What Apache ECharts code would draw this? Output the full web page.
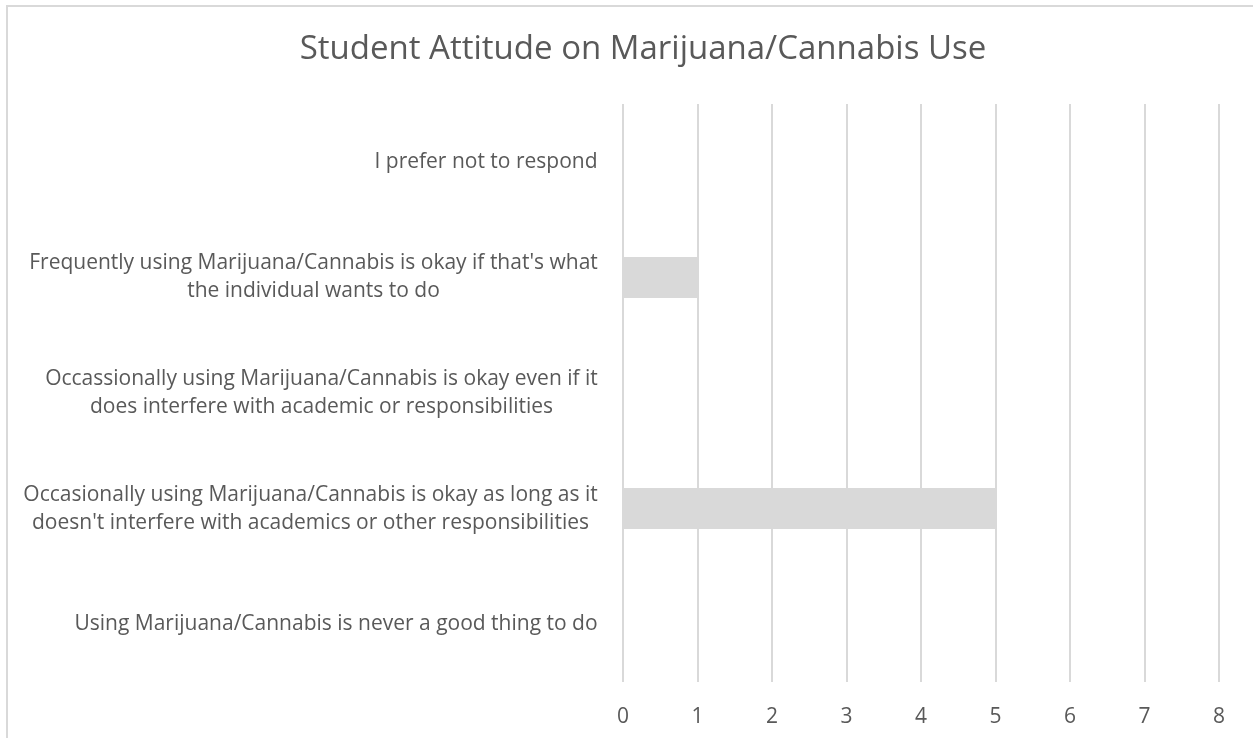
<!DOCTYPE html>
<html>
<head>
<meta charset="utf-8">
<script src="https://cdn.jsdelivr.net/npm/echarts@6/dist/echarts.min.js"></script>
<style>
  html, body { margin: 0; padding: 0; background: #fff; overflow: hidden; }
  .frame {
    position: absolute;
    left: 6px;
    top: 5px;
    width: 1270px;
    height: 760px;
    border: 2px solid #d9d9d9;
  }
  #chart { width: 1270px; height: 760px; }
</style>
</head>
<body>
<div class="frame"><div id="chart"></div></div>
<script>
// data, bottom to top as drawn
const categories = [
  "Using Marijuana/Cannabis is never a good thing to do",
  "Occasionally using Marijuana/Cannabis is okay as long as it\ndoesn't interfere with academics or other responsibilities",
  "Occassionally using Marijuana/Cannabis is okay even if it\ndoes interfere with academic or responsibilities",
  "Frequently using Marijuana/Cannabis is okay if that's what\nthe individual wants to do",
  "I prefer not to respond",
];
const responses = [0, 5, 0, 1, 0];
const tickValues = [0, 1, 2, 3, 4, 5, 6, 7, 8];

const labelSize = 21;
const labelFont = labelSize + "px 'Open Sans'";
const textColor = "#595959";

// lines in each label are centred inside the block, block is right aligned
function measure(text) {
  let ctx = document.createElement("canvas").getContext("2d");
  ctx.font = labelFont;
  return Math.ceil(Math.max(...text.split("\n").map((l) => ctx.measureText(l).width)));
}

let rich = {};
categories.forEach((c, i) => {
  rich["c" + i] = {
    width: measure(c),
    align: "center",
    fontFamily: "Open Sans",
    fontSize: labelSize,
    lineHeight: 28,
    color: textColor,
  };
});

let myChart = echarts.init(document.getElementById("chart"));
let option = {
  animation: false,
  title: {
    text: "Student Attitude on Marijuana/Cannabis Use",
    left: "center",
    top: 26,
    padding: 0,
    textStyle: {
      fontFamily: "Open Sans",
      fontSize: 33,
      fontWeight: "normal",
      color: textColor,
    },
  },
  grid: {
    left: 615,
    top: 97,
    width: 596,
    height: 578,
    containLabel: false,
  },
  xAxis: {
    type: "value",
    min: tickValues[0],
    max: tickValues[tickValues.length - 1],
    interval: 1,
    axisLine: { show: false },
    axisTick: { show: false },
    splitLine: {
      show: true,
      lineStyle: { color: "#d9d9d9", width: 2 },
    },
    axisLabel: {
      margin: 25,
      fontFamily: "Open Sans",
      fontSize: labelSize,
      color: textColor,
    },
  },
  yAxis: {
    type: "category",
    data: categories,
    axisLine: { show: false },
    axisTick: { show: false },
    splitLine: { show: false },
    axisLabel: {
      margin: 25,
      interval: 0,
      align: "right",
      formatter: (value) => {
        let i = categories.indexOf(value);
        return value
          .split("\n")
          .map((l) => "{c" + i + "|" + l + "}")
          .join("\n");
      },
      rich: rich,
    },
  },
  series: [
    {
      type: "bar",
      data: responses,
      barWidth: 41,
      itemStyle: { color: "#d9d9d9" },
      silent: true,
    },
  ],
};
myChart.setOption(option);
</script>
</body>
</html>
